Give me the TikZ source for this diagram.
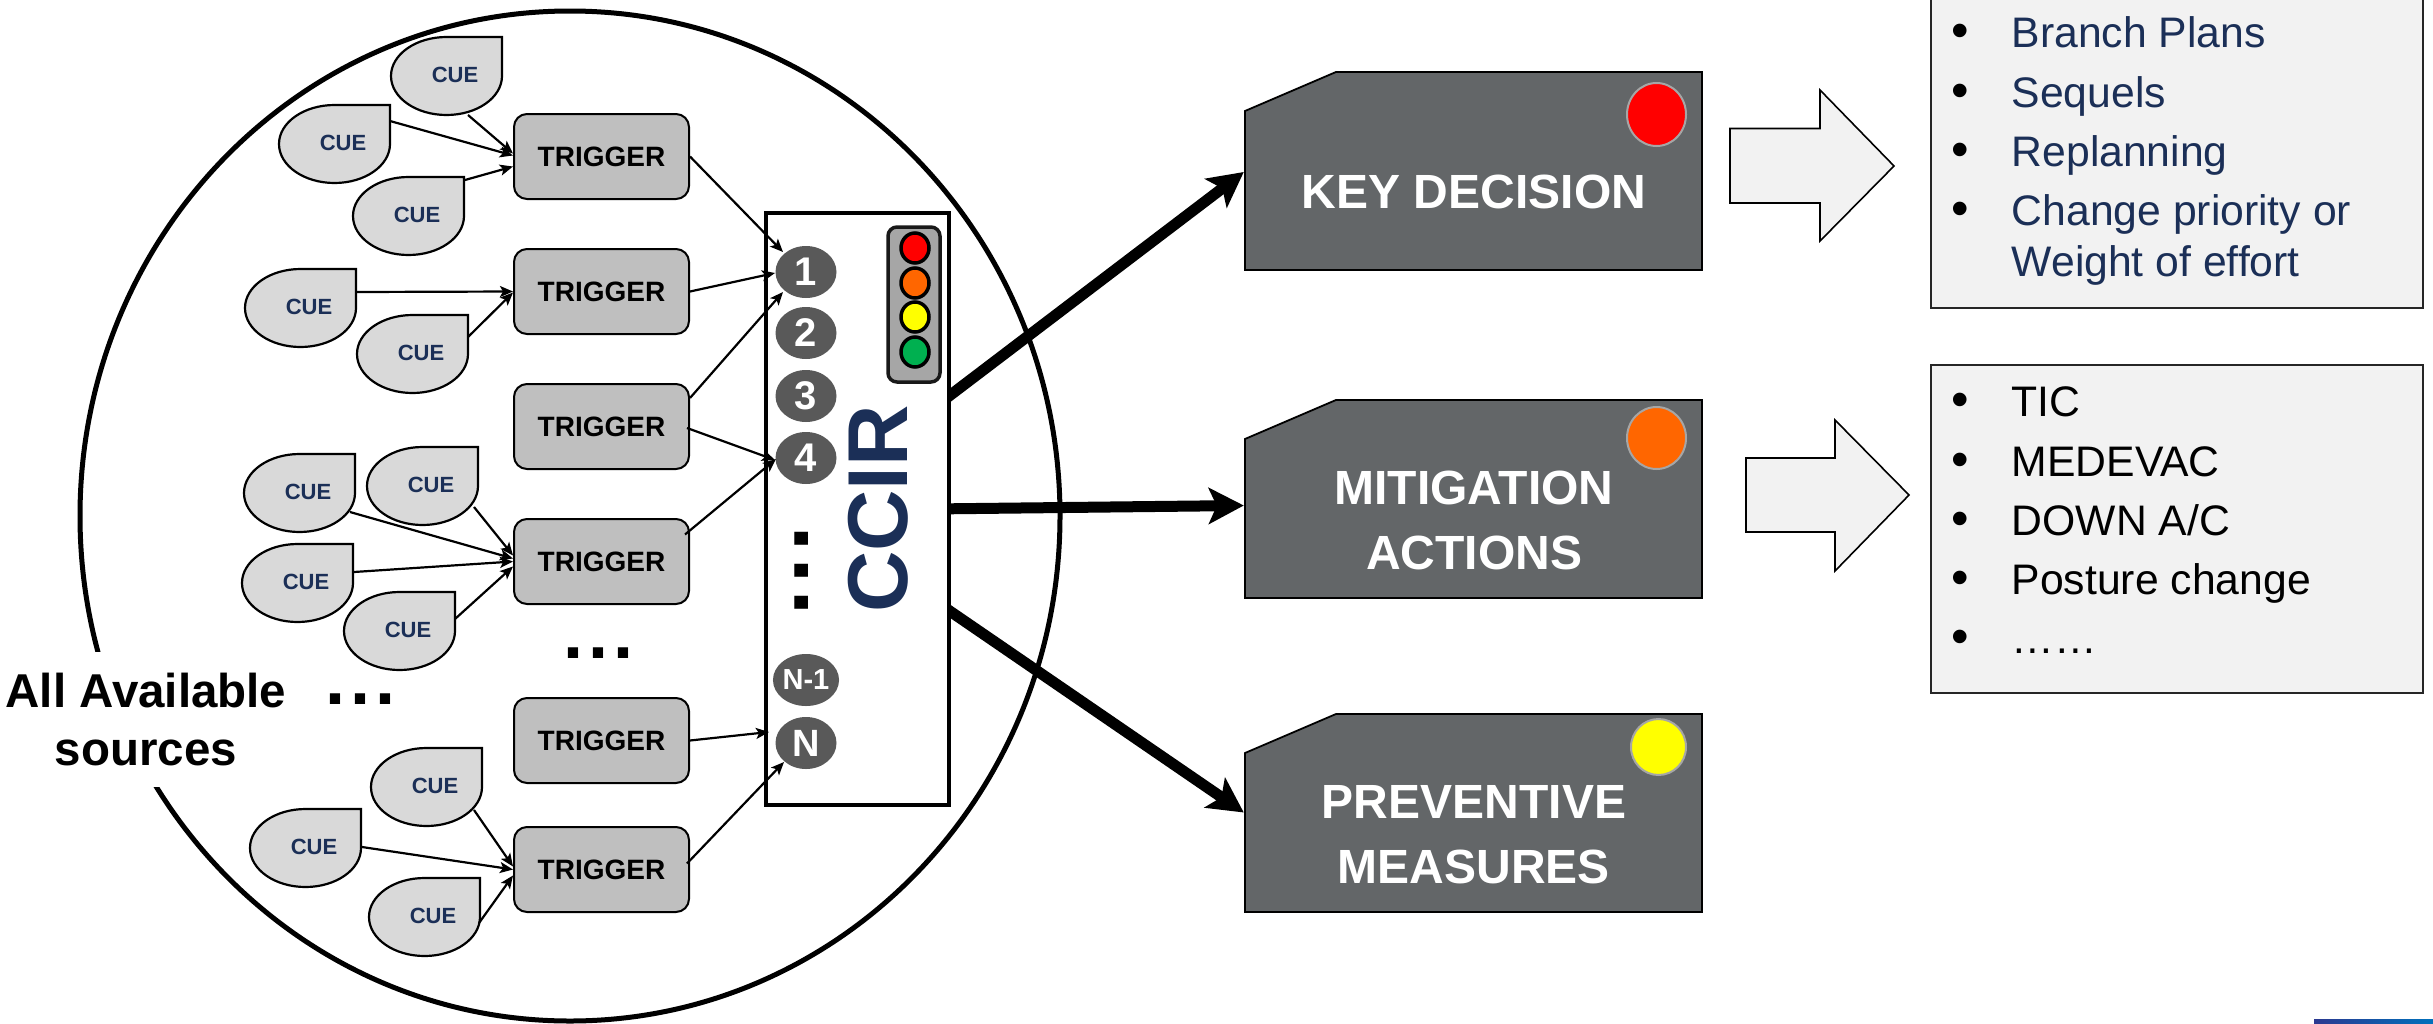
\documentclass[tikz,border=0pt]{standalone}
\usepackage{fontspec}
\setmainfont{Liberation Sans}
\usetikzlibrary{arrows.meta,shapes.geometric}
\definecolor{navy}{HTML}{1B2F57}
\definecolor{cuegrey}{HTML}{D9D9D9}
\definecolor{trig}{HTML}{BFBFBF}
\definecolor{numgrey}{HTML}{595959}
\definecolor{slategrey}{HTML}{636668}
\definecolor{pale}{HTML}{F2F2F2}
\definecolor{lampred}{HTML}{FF0000}
\definecolor{lampyellow}{HTML}{FFFF00}
\definecolor{lamp}{HTML}{FF6600}
\definecolor{go}{HTML}{00B050}
\definecolor{stripa}{HTML}{2B3990}
\definecolor{stripb}{HTML}{0071BC}
\definecolor{tlgrey}{HTML}{A6A6A6}
\definecolor{lampring}{HTML}{A6A6A6}
\newcommand{\fsz}[2]{\fontsize{#1}{#2}\selectfont}
\pgfdeclarelayer{back}
\pgfdeclarelayer{mid}
\pgfsetlayers{back,mid,main}
\tikzset{
  cueshape/.style={draw=black,line width=2.2pt,fill=cuegrey},
  cuetext/.style={inner sep=0pt,minimum width=111pt,minimum height=78pt,text=navy,font=\bfseries\fsz{22}{25}},
  trigger/.style={draw=black,line width=2pt,fill=trig,rounded corners=13pt,minimum width=175pt,minimum height=85pt,inner sep=0pt,font=\bfseries\fsz{28}{32}},
  num/.style={ellipse,fill=numgrey,text=white,minimum width=61pt,minimum height=52pt,inner sep=0pt,font=\bfseries\fsz{40}{42}},
  conn/.style={draw=black,line width=2.2pt,-{Stealth[length=13pt,width=11pt,inset=3pt]}},
  thick arrow/.style={draw=black,line width=11pt,-{Stealth[length=35pt,width=36pt,inset=8pt]}},
  lampbg/.style={ellipse,draw=black,line width=3.5pt,minimum width=28pt,minimum height=30pt,inner sep=0pt},
  keyshape/.style={draw=black,line width=1.8pt,fill=slategrey},
  keyanchor/.style={minimum width=457pt,minimum height=198pt,inner sep=0pt},
  keytext/.style={text=white,align=center,inner sep=0pt,font=\bfseries\fsz{48}{65}},
  keylamp/.style={ellipse,draw=lampring,line width=2pt,minimum width=59pt,minimum height=60pt,inner sep=0pt},
  blockarrow/.style={draw=black,line width=1.6pt,fill=pale,line join=miter},
  listbox/.style={draw=black!85,line width=1.8pt,fill=pale},
  listtext/.style={anchor=base west,inner sep=0pt,font=\fsz{42.7}{48}},
  bulletmark/.style={anchor=base,inner sep=0pt,font=\fsz{50}{50}},
  dotstext/.style={inner sep=0pt,font=\bfseries},
}
\newcommand{\cue}[3]{%
  \draw[cueshape] (#2+111,#3) -- (#2+111,#3+39) arc[start angle=0,end angle=-270,x radius=55.5pt,y radius=39pt] -- cycle;
  \node[cuetext] (#1) at (#2+55.5,#3+39) {\hspace*{17pt}\raisebox{2pt}{CUE}};
}
\newcommand{\keybox}[2]{%
  \draw[keyshape] (1336,#2) -- (1702,#2) -- (1702,#2+198) -- (1245,#2+198) -- (1245,#2+39) -- cycle;
  \node[keyanchor] (#1) at (1473.5,#2+99) {};
}
\newcommand{\bulletitem}[4]{%
  \node[bulletmark] (#1b) at (1960,#2) {•};
  \node[listtext,text=#3] (#1t) at (2011.5,#2) {#4};
}
\begin{document}
\begin{tikzpicture}[x=1pt,y=-1pt]
\useasboundingbox (0,0) rectangle (2433,1023);
% CCIR panel
\node[draw=black,line width=3.5pt,fill=white,minimum width=183pt,minimum height=592pt,inner sep=0pt] (ccir) at (857.5,509) {};
\node[rotate=90,inner sep=0pt,text=navy,font=\bfseries\fsz{85}{88}] (ccirt) at (878,509) {CCIR};
\node[draw=black!90,line width=3.5pt,fill=tlgrey,rounded corners=9pt,minimum width=52pt,minimum height=155pt,inner sep=0pt] (tl) at (914,304.5) {};
\node[lampbg,fill=lampred] (l1) at (915,248) {};
\node[lampbg,fill=lamp] (l2) at (915,283) {};
\node[lampbg,fill=lampyellow] (l3) at (915,317) {};
\node[lampbg,fill=go] (l4) at (915,352) {};
\node[num] (n1) at (806,272) {1};
\node[num] (n2) at (806,333) {2};
\node[num] (n3) at (806,396) {3};
\node[num] (n4) at (806,458) {4};
\node[num,font=\bfseries\fsz{29}{30}] (nm) at (806,680) {N-1};
\node[num,font=\bfseries\fsz{38}{40}] (nn) at (806,743) {N};
\node[dotstext,rotate=90,font=\bfseries\fsz{92}{92}] (vd) at (801.5,571) {.\kern6.4pt.\kern6.4pt.};
% triggers
\node[trigger] (t1) at (601.5,156.5) {TRIGGER};
\node[trigger] (t2) at (601.5,291.5) {TRIGGER};
\node[trigger] (t3) at (601.5,426.5) {TRIGGER};
\node[trigger] (t4) at (601.5,561.5) {TRIGGER};
\node[trigger] (t5) at (601.5,740.5) {TRIGGER};
\node[trigger] (t6) at (601.5,869.5) {TRIGGER};
\node[dotstext,font=\bfseries\fsz{72}{72}] (hd1) at (598.5,653) {.\kern5pt.\kern5pt.};
\node[dotstext,font=\bfseries\fsz{72}{72}] (hd2) at (360.5,699) {.\kern5pt.\kern5pt.};
% cues
\cue{c1}{391}{37}
\cue{c2}{279}{105}
\cue{c3}{353}{177}
\cue{c4}{245}{269}
\cue{c5}{357}{315}
\cue{c6}{244}{454}
\cue{c7}{367}{447}
\cue{c8}{242}{544}
\cue{c9}{344}{592}
\cue{c10}{371}{748}
\cue{c11}{250}{809}
\cue{c12}{369}{878}
% cue connectors
\draw[conn] ([shift={(21.5,39)}]c1.center) -- ([shift={(0,-3)}]t1.west);
\draw[conn] ([shift={(55.5,-23)}]c2.center) -- ([shift={(0,-1)}]t1.west);
\draw[conn] ([shift={(56.5,-36)}]c3.center) -- ([shift={(0,10)}]t1.west);
\draw[conn] ([shift={(55.5,-16)}]c4.center) -- (t2.west);
\draw[conn] ([shift={(55.5,-17)}]c5.center) -- ([shift={(0,1)}]t2.west);
\draw[conn] ([shift={(50.5,19)}]c6.center) -- ([shift={(0,-3)}]t4.west);
\draw[conn] ([shift={(51.5,21)}]c7.center) -- ([shift={(0,-6)}]t4.west);
\draw[conn] ([shift={(56.5,-11)}]c8.center) -- (t4.west);
\draw[conn] ([shift={(55.5,-12)}]c9.center) -- ([shift={(0,5)}]t4.west);
\draw[conn] ([shift={(47.5,23)}]c10.center) -- ([shift={(0,-3)}]t6.west);
\draw[conn] ([shift={(56.5,-1)}]c11.center) -- (t6.west);
\draw[conn] ([shift={(54.5,6)}]c12.center) -- ([shift={(0,6)}]t6.west);
% trigger connectors
\draw[conn] (t1.east) -- ([shift={(-23,-20)}]n1.center);
\draw[conn] (t2.east) -- ([shift={(-31,1)}]n1.center);
\draw[conn] ([shift={(0,-28.5)}]t3.east) -- ([shift={(-23,20)}]n1.center);
\draw[conn] ([shift={(-3,1.5)}]t3.east) -- ([shift={(-31,2)}]n4.center);
\draw[conn] ([shift={(-5,-27)}]t4.east) -- ([shift={(-30,1)}]n4.center);
\draw[conn] (t5.east) -- ([shift={(-37,-11)}]nn.center);
\draw[conn] ([shift={(-3,-6)}]t6.east) -- ([shift={(-22,19)}]nn.center);
% key boxes
\keybox{kd}{72}
\keybox{ma}{400}
\keybox{pm}{714}
\node[keytext] (kdt) at (1474,191.5) {KEY DECISION};
\node[keytext] (mat) at (1474,520) {MITIGATION\\ACTIONS};
\node[keytext] (pmt) at (1474,834.5) {PREVENTIVE\\MEASURES};
\node[keylamp,fill=lampred,minimum height=63pt] (kl) at (1656.5,114.5) {};
\node[keylamp,fill=lamp,minimum height=62pt] (ml) at (1656.5,438) {};
\node[keylamp,fill=lampyellow,minimum width=55pt,minimum height=56pt] (pl) at (1658.5,747) {};
% thick arrows, under the CCIR panel
\begin{pgfonlayer}{mid}
\draw[thick arrow] ([shift={(-20,-99)}]ccir.east) -- ([shift={(-1,1)}]kd.west);
\draw[thick arrow] ([shift={(-20,0)}]ccir.east) -- ([shift={(-1,6.5)}]ma.west);
\draw[thick arrow] ([shift={(-20,89)}]ccir.east) -- ([shift={(-1,-0.5)}]pm.west);
\end{pgfonlayer}
% big circle and its caption
\begin{pgfonlayer}{back}
\fill[white] (0,0) rectangle (2433,1023);
\draw[line width=5pt] (570,516) ellipse[x radius=490pt,y radius=505pt];
\node[fill=white,inner sep=0pt,minimum width=290pt,minimum height=135pt,align=center,font=\bfseries\fsz{47.5}{58}] (src) at (146,719.5) {All Available\\sources};
\end{pgfonlayer}
% block arrows
\draw[blockarrow] (1730,128.5) -- (1820,128.5) -- (1820,90) -- (1894,166) -- (1820,241) -- (1820,203) -- (1730,203) -- cycle;
\draw[blockarrow] (1746,458) -- (1835,458) -- (1835,420) -- (1909,495) -- (1835,571) -- (1835,532) -- (1746,532) -- cycle;
% list boxes
\fill[pale] (1931,0) rectangle (2423,308);
\draw[listbox,fill=none] (1931,0) -- (1931,308) -- (2423,308) -- (2423,0);
\draw[listbox] (1931,365) rectangle (2423,693);
\bulletitem{a1}{47.7}{navy}{Branch Plans}
\bulletitem{a2}{107}{navy}{Sequels}
\bulletitem{a3}{166}{navy}{Replanning}
\bulletitem{a4}{225.5}{navy}{Change priority or}
\node[listtext,text=navy] (a5t) at (2011.5,276) {Weight of effort};
\bulletitem{b1}{416.7}{black}{TIC}
\bulletitem{b2}{476}{black}{MEDEVAC}
\bulletitem{b3}{535}{black}{DOWN A/C}
\bulletitem{b4}{594.5}{black}{Posture change}
\bulletitem{b5}{653.5}{black}{……}
% corner strip
\shade[left color=stripa,right color=stripb] (2314,1019) rectangle (2433,1023);
\end{tikzpicture}
\end{document}
